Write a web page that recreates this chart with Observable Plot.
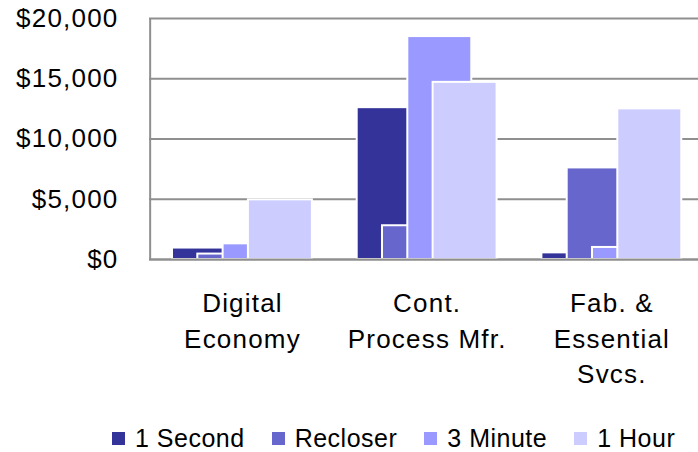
<!DOCTYPE html>
<html>
<head>
<meta charset="utf-8">
<script src="https://cdn.jsdelivr.net/npm/d3@7"></script>
<script src="https://cdn.jsdelivr.net/npm/@observablehq/plot@0.6"></script>
<style>
  html, body { margin: 0; padding: 0; background: #fff; }
  body { font-family: "Liberation Sans", Arial, sans-serif; color: #000; width: 698px; height: 452px; overflow: hidden; }
  #legend { height: 52px; box-sizing: border-box; padding-top: 25px; padding-left: 112px; display: flex; align-items: flex-start; font-size: 25px; letter-spacing: 0.5px; line-height: 26px; white-space: nowrap; }
  .item { display: flex; align-items: center; margin-right: 27px; }
  .sw { width: 13px; height: 13px; margin-right: 10px; flex: none; }
</style>
</head>
<body>
<div id="chart"></div>
<div id="legend"></div>
<script>
// ---- data ----
const categories = ["Digital\nEconomy", "Cont.\nProcess Mfr.", "Fab. &\nEssential\nSvcs."];
const seriesNames = ["1 Second", "Recloser", "3 Minute", "1 Hour"];
const oneSecond   = [950, 12600, 550];
const recloser    = [450, 2800, 7600];
const threeMinute = [1300, 18500, 1000];
const oneHour     = [4950, 14700, 12500];
const colors = ["#333399", "#6666CC", "#9999FF", "#CCCCFF"];
const yTicks = [0, 5000, 10000, 15000, 20000];

// ---- layout (overlapping clustered bars) ----
const step = 0.137, barW = 0.3464, groupStart = -0.379;
const series = [oneSecond, recloser, threeMinute, oneHour];
const bars = series.flatMap((vals, s) => vals.map((v, c) => ({series: seriesNames[s], s, c, value: v})));
const gray = "#8f8f8f";

const chart = Plot.plot({
  width: 698,
  height: 400,
  marginTop: 18,
  marginBottom: 141,
  marginLeft: 149,
  marginRight: 0,
  style: {fontFamily: "'Liberation Sans', Arial, sans-serif", fontSize: "26px", letterSpacing: "1.2px", color: "#000", background: "#fff", overflow: "visible"},
  x: {type: "linear", domain: [-0.5, 2.5], range: [149.65, 703.75], label: null},
  y: {domain: [0, 20000], label: null},
  color: {domain: seriesNames, range: colors},
  marks: [
    Plot.ruleY(yTicks, {stroke: gray, strokeWidth: 2}),
    Plot.rect(bars, {
      x1: d => d.c + groupStart + d.s * step,
      x2: d => d.c + groupStart + d.s * step + barW,
      y1: 0,
      y2: "value",
      fill: "series",
      stroke: "#fff",
      strokeWidth: 2
    }),
    Plot.ruleY([0], {stroke: gray, strokeWidth: 2}),
    Plot.ruleX([-0.5], {y1: 0, y2: 20000, stroke: gray, strokeWidth: 2}),
    Plot.axisY(yTicks, {tickSize: 0, tickPadding: 31, label: null, tickFormat: d => "$" + d3.format(",")(d)}),
    Plot.axisX([0, 1, 2], {tickSize: 0, tickPadding: 28, label: null, lineHeight: 1.35, tickFormat: i => categories[i]})
  ]
});
document.getElementById("chart").appendChild(chart);

// ---- legend ----
const legend = document.getElementById("legend");
seriesNames.forEach((name, i) => {
  const item = document.createElement("div");
  item.className = "item";
  const sw = document.createElement("span");
  sw.className = "sw";
  sw.style.background = colors[i];
  const label = document.createElement("span");
  label.textContent = name;
  item.appendChild(sw);
  item.appendChild(label);
  legend.appendChild(item);
});
</script>
</body>
</html>
